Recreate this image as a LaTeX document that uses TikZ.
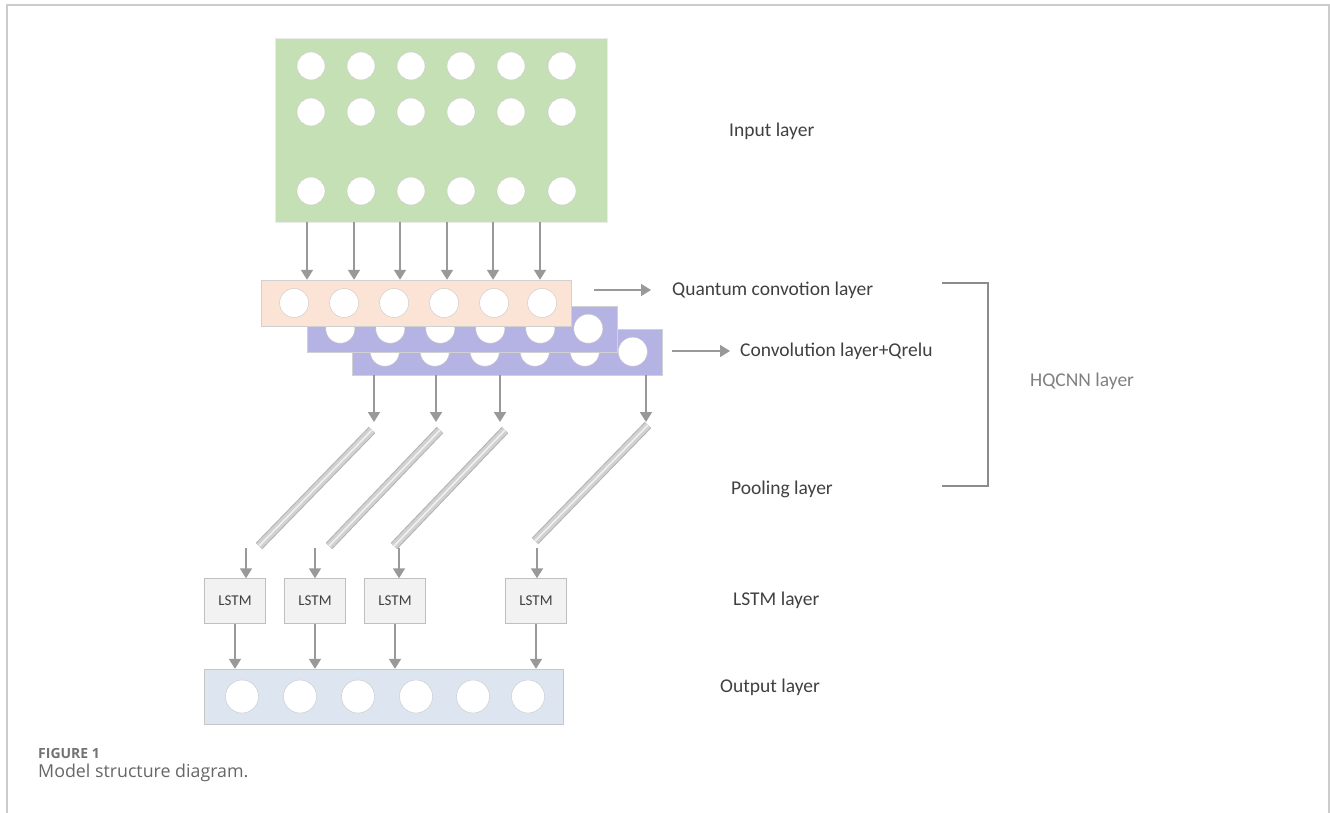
\documentclass[tikz,border=0pt]{standalone}
\usepackage{fontspec}
\setmainfont{Carlito}
\newfontfamily\captionfont{Open Sans}
\usetikzlibrary{arrows.meta,positioning,calc}
\definecolor{inputgreen}{RGB}{197,224,180}
\definecolor{qconvpeach}{RGB}{251,228,214}
\definecolor{convpurple}{RGB}{181,178,228}
\definecolor{outputblue}{RGB}{220,229,240}
\definecolor{lstmgray}{RGB}{242,242,242}
\definecolor{arrowgray}{RGB}{153,153,153}
\definecolor{labelgray}{RGB}{64,64,64}
\definecolor{framegray}{RGB}{204,204,204}
\tikzset{
  layerbox/.style={draw=black!18,inner sep=0pt,minimum width=310pt,minimum height=46pt},
  neuron/.style={circle,draw=black!22,fill=white,inner sep=0pt,minimum size=29pt},
  lstmbox/.style={draw=black!25,fill=lstmgray,minimum width=61pt,minimum height=45pt,
    font=\fontsize{15}{18}\selectfont,text=labelgray},
  flowarrow/.style={-{Triangle[length=10pt,width=12pt]},line width=1.8pt,draw=arrowgray},
  layerlabel/.style={anchor=west,inner sep=0pt,font=\fontsize{19.5}{23}\selectfont,text=labelgray},
  poolbar/.style={line width=9pt,draw=black!30},
  poolface/.style={line width=7pt,draw=black!18},
  bracketline/.style={line width=1.4pt,draw=black!45}
}

\begin{document}
\begin{tikzpicture}[x=1pt,y=-1pt]
  \useasboundingbox (0,0) rectangle (1330,813);
  \draw[framegray,line width=1.5pt] (7,813) -- (7,5) -- (1329,5) -- (1329,813);

  % input layer
  \node[layerbox,fill=inputgreen,draw=black!8,minimum width=332pt,minimum height=184pt] (input) at (441,130) {};
  \foreach \ry [count=\r] in {66,112,191}
    \foreach \cx [count=\c] in {311,361,411,461,511,562}
      \node[neuron,minimum size=28pt] (in-\r-\c) at (\cx,\ry) {};

  % convolution stack (back to front)
  \node[layerbox,fill=convpurple] (conv2) at (507,351.7) {};
  \foreach \cx [count=\c] in {33,83,133,183,233,281}
    \node[neuron] (c2-\c) at ($(conv2.west)+(\cx,0)$) {};
  \node[layerbox,fill=convpurple] (conv1) at (462.5,328.7) {};
  \foreach \cx [count=\c] in {33,83,133,183,233,281}
    \node[neuron] (c1-\c) at ($(conv1.west)+(\cx,0)$) {};
  \node[layerbox,fill=qconvpeach] (qconv) at (416.3,303) {};
  \foreach \cx [count=\c] in {33,83,133,183,233,281}
    \node[neuron] (q-\c) at ($(qconv.west)+(\cx,0)$) {};

  \foreach \ax [count=\i] in {307,354,400,447,493,540} {
    \coordinate (inarr\i) at (\ax,0);
    \draw[flowarrow] (input.south -| inarr\i) -- (qconv.north -| inarr\i);
  }

  % pooling bars
  \foreach \ax/\tx/\ty/\bx/\by/\ox [count=\i] in
      {374/372/430/259/546/246, 436/440/430/329/546/315,
       500/505/430/394/546/399, 646/648/425/535/541/537} {
    \coordinate (pooltop\i) at (\tx,\ty);
    \coordinate (poolbot\i) at (\bx,\by);
    \coordinate (poolin\i) at (\ax,422);
    \coordinate (poolout\i) at (\ox,548);
    \draw[flowarrow] (conv2.south -| poolin\i) -- (poolin\i);
    \draw[poolbar] (pooltop\i) -- (poolbot\i);
    \draw[poolface] (pooltop\i) -- (poolbot\i);
    \draw[line width=1.6pt,black!6,shift={(2.2,2.2)}] (pooltop\i) -- (poolbot\i);
  }

  % lstm and output
  \node[layerbox,fill=outputblue,draw=black!22,minimum width=359pt,minimum height=55pt] (output) at (383.7,696.5) {};
  \foreach \cx [count=\c] in {242,300,358,416,473,528}
    \node[neuron,minimum size=33pt] (out-\c) at (\cx,696.5) {};
  \foreach \lx [count=\i] in {235,315,395,536} {
    \node[lstmbox] (lstm\i) at (\lx,601) {LSTM};
    \draw[flowarrow] (poolout\i) -- (lstm\i.north -| poolout\i);
    \draw[flowarrow] (lstm\i.south) -- (output.north -| lstm\i.south);
  }

  % labels
  \node[layerlabel] (inlabel) at (729,131) {Input layer};
  \node[layerlabel] (qlabel) at (672,290) {Quantum convotion layer};
  \node[layerlabel] (clabel) at (740,351) {Convolution layer+Qrelu};
  \node[layerlabel] (plabel) at (731,489) {Pooling layer};
  \node[layerlabel] (llabel) at (733,600) {LSTM layer};
  \node[layerlabel] (olabel) at (720,687) {Output layer};
  \coordinate (qarrow) at (594,290);
  \coordinate (carrow) at (672,351);
  \draw[flowarrow] (qarrow) -- ([xshift=-21pt]qlabel.west);
  \draw[flowarrow] (carrow) -- ([xshift=-10pt]clabel.west);

  \coordinate (hqtop) at (942,283);
  \coordinate (hqbot) at (942,486);
  \draw[bracketline] (hqtop) -- ++(46,0) |- (hqbot);
  \node[layerlabel,text=black!50] (hqlabel) at (1030,381) {HQCNN layer};

  % caption
  \node[anchor=west,inner sep=0pt,font=\captionfont\bfseries\fontsize{14}{16}\selectfont,text=black!55] (figno) at (38,753) {FIGURE 1};
  \node[anchor=west,inner sep=0pt,font=\captionfont\fontsize{17.8}{21}\selectfont,text=black!60] (figcap) at (38,773) {Model structure diagram.};
\end{tikzpicture}
\end{document}
